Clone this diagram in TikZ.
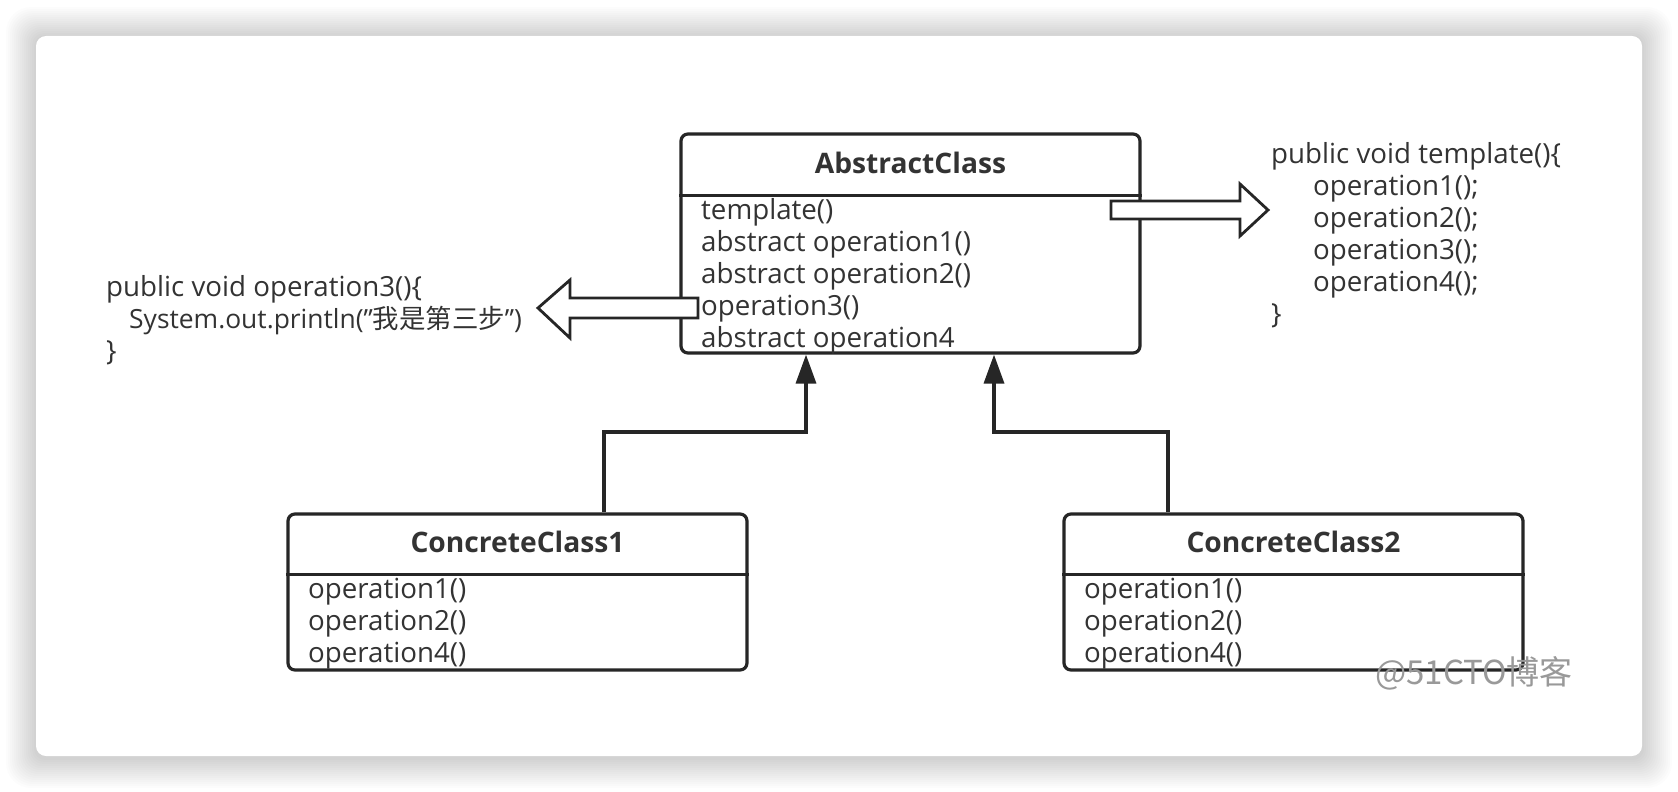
\documentclass[tikz,border=0pt]{standalone}
\usepackage{fontspec}
\setmainfont{Open Sans}
\newfontfamily\cjk{Noto Sans CJK SC}
\usetikzlibrary{arrows.meta}
\definecolor{ink}{HTML}{262626}
\definecolor{txt}{HTML}{333333}
\begin{document}
\begin{tikzpicture}[x=1pt,y=-1pt,
  classbox/.style={draw=ink, line width=3.2pt, rounded corners=7pt, fill=white, inner sep=0pt},
  divider/.style={draw=ink, line width=3pt},
  ctitle/.style={font=\fontsize{28.2}{30}\selectfont\bfseries, text=txt, inner sep=0pt},
  member/.style={font=\fontsize{27.7}{30}\selectfont, text=txt, anchor=base west, inner sep=0pt},
  inherit/.style={draw=ink, line width=3.4pt, -{Triangle[length=29pt,width=20pt]}},
  blockarrow/.style={draw=ink, line width=2.8pt, fill=white, line join=miter}
]
\useasboundingbox (0,0) rectangle (1678,792);
\fill[white] (0,0) rectangle (1678,792);
% card shadow
\foreach \i in {1,...,15}{
  \pgfmathsetmacro\rr{10+\i}
  \fill[black, opacity=0.013, rounded corners=\rr pt] (36-2*\i,37-2*\i) rectangle (1642+2*\i,758+2*\i);
}
\fill[white, rounded corners=10pt] (36,36) rectangle (1642,756);

% class boxes
\node[classbox, minimum width=459pt, minimum height=219pt] (ac) at (910.5,243.5) {};
\node[classbox, minimum width=459pt, minimum height=156pt] (cc1) at (517.5,592) {};
\node[classbox, minimum width=459pt, minimum height=156pt] (cc2) at (1293.5,592) {};

\coordinate (d0) at (0,195);
\coordinate (d1) at (0,574);
\draw[divider] (ac.west |- d0) -- (ac.east |- d0);
\draw[divider] (cc1.west |- d1) -- (cc1.east |- d1);
\draw[divider] (cc2.west |- d1) -- (cc2.east |- d1);

\node[ctitle] (act) at (910.5,163) {AbstractClass};
\node[ctitle] (c1t) at (517.5,542) {ConcreteClass1};
\node[ctitle] (c2t) at (1293.5,542) {ConcreteClass2};

\node[member] (am1) at (701,219.5) {template()};
\node[member] (am2) at (701,251.5) {abstract operation1()};
\node[member] (am3) at (701,283.5) {abstract operation2()};
\node[member] (am4) at (701,315.5) {operation3()};
\node[member] (am5) at (701,347.5) {abstract operation4};

\node[member] (c1m1) at (308,598.5) {operation1()};
\node[member] (c1m2) at (308,630.5) {operation2()};
\node[member] (c1m3) at (308,662.5) {operation4()};

\node[member] (c2m1) at (1084,598.5) {operation1()};
\node[member] (c2m2) at (1084,630.5) {operation2()};
\node[member] (c2m3) at (1084,662.5) {operation4()};

% code texts
\node[member] (r1) at (1271,163) {public void template()\{};
\node[member] (r2) at (1313,195) {operation1();};
\node[member] (r3) at (1313,227) {operation2();};
\node[member] (r4) at (1313,259) {operation3();};
\node[member] (r5) at (1313,291) {operation4();};
\node[member] (r6) at (1271,323) {\}};

\node[member] (l1) at (106,296.5) {public void operation3()\{};
\node[member, font=\fontsize{26.4}{30}\selectfont] (l2) at (129,328.5) {System.out.println(\symbol{"22}{\cjk 我是第三步}\symbol{"22})};
\node[member] (l3) at (106,360.5) {\}};

% block arrows
\draw[blockarrow] (1111,201) -- (1240,201) -- (1240,184) -- (1268,210) -- (1240,236) -- (1240,219) -- (1111,219) -- cycle;
\draw[blockarrow] (698,298) -- (570,298) -- (570,280) -- (538,308) -- (570,338) -- (570,318) -- (698,318) -- cycle;

% inheritance connectors
\coordinate (x1) at (604,0);
\coordinate (x2) at (806,0);
\coordinate (x3) at (1168,0);
\coordinate (x4) at (994,0);
\coordinate (mid) at (0,432);
\draw[inherit] (cc1.north -| x1) |- (x2 |- mid) -- (ac.south -| x2);
\draw[inherit] (cc2.north -| x3) |- (x4 |- mid) -- (ac.south -| x4);

% watermark
\node[font=\cjk\fontsize{33}{34}\selectfont, text=gray!80, inner sep=0pt] (wm) at (1474,673) {@51CTO博客};
\end{tikzpicture}
\end{document}
